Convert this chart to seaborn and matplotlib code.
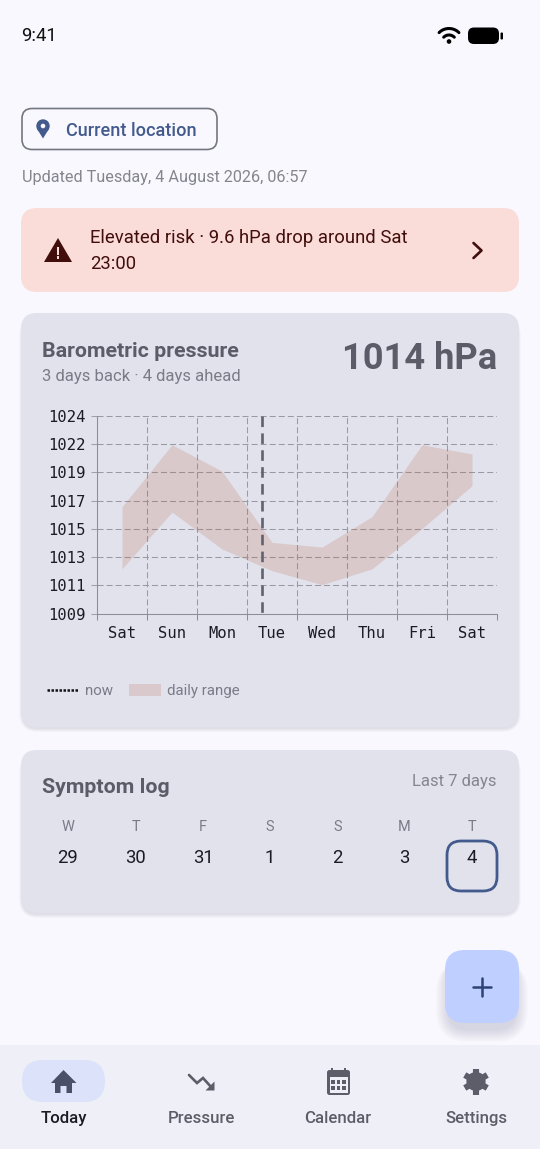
import numpy as np
import pandas as pd
import matplotlib
matplotlib.use("Agg")
import matplotlib.pyplot as plt
from matplotlib.lines import Line2D
from matplotlib.patches import FancyBboxPatch, Patch, Polygon, Circle, Rectangle
import seaborn as sns

# chart data
day_labels = ["Sat", "Sun", "Mon", "Tue", "Wed", "Thu", "Fri", "Sat"]
pressure_high = [1017.1, 1021.8, 1019.8, 1014.4, 1014.05, 1016.35, 1021.8, 1021.1]
pressure_low = [1012.4, 1016.7, 1013.9, 1012.26, 1011.2, 1012.4, 1015.45, 1018.7]
y_ticks = [1009, 1011.14, 1013.29, 1015.43, 1017.57, 1019.71, 1021.86, 1024]
y_tick_labels = ["1009", "1011", "1013", "1015", "1017", "1019", "1022", "1024"]
now_pos = 2.79

# calendar strip
week_letters = ["W", "T", "F", "S", "S", "M", "T"]
week_dates = ["29", "30", "31", "1", "2", "3", "4"]
week_x = [68, 135.5, 203, 270, 337.5, 404.5, 472]

# bottom nav
nav_labels = ["Today", "Pressure", "Calendar", "Settings"]
nav_x = [63.5, 201, 338, 476]

sns.set_theme(style="whitegrid")
plt.rcParams["font.family"] = ["Roboto", "DejaVu Sans"]

BG = "#f9f8ff"
CARD = "#e1e2ec"
PRIMARY = "#435a8c"
TITLE = "#5b5c68"
MUTED = "#7b7b88"
DARK = "#1c1b24"
ALERT_TEXT = "#410e0b"
NAV = "#eeeff7"
ICON = "#5c5d68"


def px(size):
    return size * 0.72


fig = plt.figure(figsize=(5.4, 11.49), dpi=100, facecolor=BG)

# screen layer in pixel coordinates
bg = fig.add_axes([0, 0, 1, 1], zorder=0)
bg.set_xlim(0, 540)
bg.set_ylim(1149, 0)
bg.axis("off")
bg.grid(False)


def box(x0, y0, x1, y1, r, **kw):
    p = FancyBboxPatch((x0 + r, y0 + r), x1 - x0 - 2 * r, y1 - y0 - 2 * r,
                       boxstyle=f"round,pad={r},rounding_size={r}", **kw)
    bg.add_patch(p)
    return p


def shadow(x0, y0, x1, y1, r, layers=5, step=0.7, drop=2, alpha=0.025):
    # stacked translucent boxes, widest first, to fake a blur
    for i in range(layers, 0, -1):
        grow = i * step - step
        box(x0 + 1 - grow, y0 + drop + 2, x1 - 1 + grow, y1 + drop + grow, r + grow,
            facecolor="#30304a", edgecolor="none", alpha=alpha)


def txt(x, y, s, size, color, weight="normal", ha="left", family=None):
    kw = {"family": family} if family else {}
    bg.text(x, y + 1.6, s, fontsize=px(size), color=color, fontweight=weight, ha=ha, va="center", **kw)


# status bar
txt(21, 34.5, "9:41", 18.5, "#111111")
t = np.radians(np.linspace(45, 135, 20))
for radius in (7.5, 14):
    bg.plot(449 + radius * np.cos(t), 42 - radius * np.sin(t) + 0.5, color="black", lw=2.2,
            solid_capstyle="round")
bg.add_patch(Circle((449, 41.5), 2.3, color="black", lw=0))
box(468, 27.5, 499, 44, 6, facecolor="black", edgecolor="none")
box(500.5, 32.5, 503, 39.5, 1, facecolor="black", edgecolor="none")

# location chip
box(22, 108.5, 217, 149.5, 10, facecolor=BG, edgecolor="#74777f", lw=1.2)
bg.add_patch(Circle((43, 126), 6.7, color=PRIMARY, lw=0))
bg.add_patch(Polygon([[36.8, 128.5], [49.2, 128.5], [43, 138.5]], color=PRIMARY, lw=0))
bg.add_patch(Circle((43, 126), 2.3, color=BG, lw=0))
txt(66, 129, "Current location", 18.2, PRIMARY, weight=500)
txt(21.5, 175.5, "Updated Tuesday, 4 August 2026, 06:57", 16.3, "#85858e")

# alert banner
box(21, 208, 519, 292, 16, facecolor="#fadcd9", edgecolor="none")
bg.add_patch(Polygon([[44, 262], [58, 238], [72, 262]], color=ALERT_TEXT, lw=0))
bg.add_patch(Rectangle((56.8, 247), 2.4, 7.5, color="#fadcd9", lw=0))
bg.add_patch(Rectangle((56.8, 256), 2.4, 2.5, color="#fadcd9", lw=0))
txt(90, 236.5, "Elevated risk · 9.6 hPa drop around Sat", 18.5, ALERT_TEXT)
txt(90, 262.5, "23:00", 18.5, ALERT_TEXT)
bg.plot([473.5, 481.5, 473.5], [243, 250.5, 258], color=ALERT_TEXT, lw=1.9)

# pressure card
shadow(21, 313, 519, 727, 16)
box(21, 313, 519, 727, 16, facecolor=CARD, edgecolor="none")
txt(42, 349.5, "Barometric pressure", 21.4, TITLE, weight=600)
txt(42, 375, "3 days back · 4 days ahead", 16.6, MUTED)
txt(497.5, 357, "1014 hPa", 36.3, TITLE, weight="bold", ha="right")

# symptom card
shadow(21, 750, 519, 913, 16)
box(21, 750, 519, 913, 16, facecolor=CARD, edgecolor="none")
txt(42, 785.5, "Symptom log", 21.4, TITLE, weight=600)
txt(497, 779.5, "Last 7 days", 16.6, "#858590", ha="right")
for x, letter, date in zip(week_x, week_letters, week_dates):
    txt(x, 825.5, letter, 14.5, MUTED, ha="center")
    txt(x, 856.5, date, 18.5, DARK, ha="center")
box(447, 841, 497, 891, 14, facecolor="none", edgecolor=PRIMARY, lw=2)

# floating button
shadow(447, 952, 517, 1023, 20, layers=12, step=1.1, drop=7, alpha=0.011)
box(445, 950, 519, 1023, 20, facecolor="#bfcfff", edgecolor="none")
bg.plot([473, 491], [986.5, 986.5], color="#2d4373", lw=1.8)
bg.plot([482, 482], [977.5, 995.5], color="#2d4373", lw=1.8)

# bottom navigation
bg.add_patch(Rectangle((0, 1045), 540, 104, color=NAV, lw=0))
box(22, 1060, 105, 1102, 21, facecolor="#dce2f9", edgecolor="none")
for x, label, i in zip(nav_x, nav_labels, range(4)):
    txt(x, 1116.5, label, 16.8, DARK if i == 0 else ICON, weight=500, ha="center")

home = "#4a5068"
bg.add_patch(Polygon([[63.5, 1070], [76.5, 1083], [72, 1083], [72, 1093], [66.5, 1093], [66.5, 1086],
                      [60.5, 1086], [60.5, 1093], [55, 1093], [55, 1083], [51, 1083]], color=home, lw=0))
bg.plot([189, 197, 203, 212], [1075, 1083, 1078, 1088], color=ICON, lw=1.9, solid_joinstyle="miter")
bg.add_patch(Polygon([[214.5, 1090.5], [205.5, 1090.5], [214.5, 1081.5]], color=ICON, lw=0))

box(327, 1070, 350, 1095, 2.5, facecolor=ICON, edgecolor="none")
bg.add_patch(Rectangle((331, 1067.5), 2.2, 4, color=ICON, lw=0))
bg.add_patch(Rectangle((344, 1067.5), 2.2, 4, color=ICON, lw=0))
bg.add_patch(Rectangle((329.5, 1077), 18, 15.5, color=NAV, lw=0))
for row in (1082, 1088):
    for col in (333, 338.5, 344):
        bg.add_patch(Rectangle((col - 1.6, row - 1.6), 3.2, 3.2, color=ICON, lw=0))

for ang in np.radians(np.arange(30, 360, 60)):
    bg.plot([476, 476 + 13 * np.cos(ang)], [1081.5, 1081.5 + 13 * np.sin(ang)], color=ICON, lw=4.4,
            solid_capstyle="butt")
bg.add_patch(Circle((476, 1081.5), 9.6, color=ICON, lw=0))
bg.add_patch(Circle((476, 1081.5), 4.2, color=NAV, lw=0))

# pressure chart
left, right, top, bottom = 97, 497, 415.7, 613.7
ax = fig.add_axes([left / 540, 1 - bottom / 1149, (right - left) / 540, (bottom - top) / 1149], zorder=1)
ax.set_facecolor("none")

days = np.arange(len(day_labels))
band = pd.DataFrame({
    "day": np.concatenate([days, days]),
    "pressure": pressure_high + pressure_low,
})
sns.lineplot(data=band, x="day", y="pressure", estimator="mean", errorbar=("pi", 100), color="#b96547",
             linewidth=0, err_kws={"alpha": 0.2, "linewidth": 0}, ax=ax)

ax.set_xlim(-0.5, 7.5)
ax.set_ylim(1009, 1024)
ax.set_xlabel("")
ax.set_ylabel("")

mono = "DejaVu Sans Mono"
ax.set_yticks(y_ticks)
ax.set_yticklabels(y_tick_labels, family=mono, fontsize=px(15.5), color=DARK)
ax.set_xticks(np.arange(-0.5, 8, 1))
ax.set_xticklabels([])
ax.set_xticks(days, day_labels, minor=True, family=mono, fontsize=px(15.5), color=DARK)
ax.tick_params(axis="x", which="major", length=4.3, width=0.75, color="#8d8d98", bottom=True)
ax.tick_params(axis="x", which="minor", length=0, pad=8.5)
ax.tick_params(axis="y", length=4.3, width=0.75, color="#a0a0aa", left=True, pad=4)

ax.grid(True, which="major", color="#9a9aa5", lw=0.75, linestyle=(0, (5.8, 2.9)))
ax.grid(False, which="minor")
ax.set_axisbelow(True)
ax.get_xgridlines()[-1].set_visible(False)
for side in ("top", "right"):
    ax.spines[side].set_visible(False)
for side in ("left", "bottom"):
    ax.spines[side].set_color("#8d8d98")
    ax.spines[side].set_linewidth(0.75)

# drawn top-down so the dash pattern starts at the top edge
ax.plot([now_pos, now_pos], [1024, 1009], color="#62626e", lw=1.9, linestyle=(0, (4, 2.4)), zorder=4)

handles = [Line2D([], [], color="#111111", lw=1.8, linestyle=(0, (1, 0.6))),
           Patch(facecolor="#d9c9cc", edgecolor="none")]
leg = ax.legend(handles, ["now", "daily range"], loc="center left", ncol=2, frameon=False,
                bbox_to_anchor=((47 - left) / (right - left), (bottom - 691) / (bottom - top)),
                prop={"size": px(15), "family": "Roboto"}, handlelength=2.13, handleheight=0.85,
                handletextpad=0.4, columnspacing=1.07, borderpad=0, borderaxespad=0, labelcolor=MUTED)

fig.savefig("out.png", dpi=100, facecolor=BG)
